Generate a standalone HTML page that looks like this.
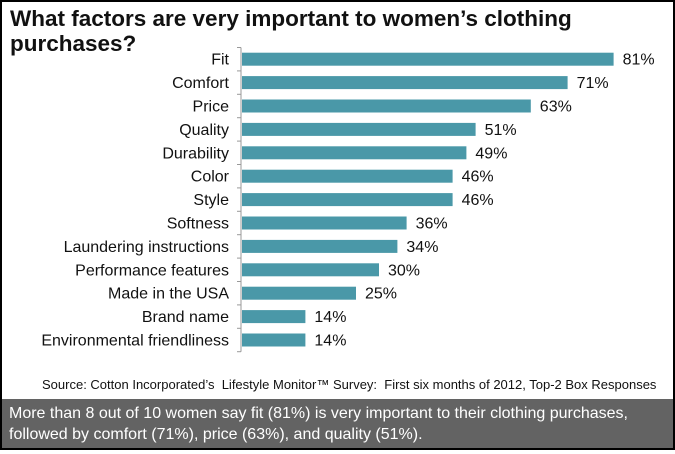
<!DOCTYPE html>
<html><head><meta charset="utf-8"><style>
body{margin:0;background:#fff;font-family:"Liberation Sans",Arial,sans-serif;}
#wrap{position:relative;width:671px;height:446px;border:2px solid #000;overflow:hidden;background:#fff}
#title{position:absolute;left:8px;top:4px;font-size:22.5px;font-weight:bold;line-height:25px;color:#111;margin:0;white-space:nowrap}
#src{position:absolute;left:40px;top:375px;font-size:13px;color:#111;white-space:nowrap}
#foot{position:absolute;left:0;top:397px;width:671px;height:49px;background:#636363;color:#fff;font-size:16px;line-height:21px;padding:4px 7px;box-sizing:border-box;white-space:nowrap}
</style></head><body>
<div id="wrap">
<h1 id="title">What factors are very important to women’s clothing<br>purchases?</h1>
<svg id="chart" width="671" height="370" style="position:absolute;left:0;top:0"></svg>
<div id="src">Source: Cotton Incorporated’s&nbsp; Lifestyle Monitor™ Survey:&nbsp; First six months of 2012, Top-2 Box Responses</div>
<div id="foot">More than 8 out of 10 women say fit (81%) is very important to their clothing purchases,<br>followed by comfort (71%), price (63%), and quality (51%).</div>
</div>
<script>
const categories=["Fit","Comfort","Price","Quality","Durability","Color","Style","Softness","Laundering instructions","Performance features","Made in the USA","Brand name","Environmental friendliness"];
const values=[81,71,63,51,49,46,46,36,34,30,25,14,14];
const valueLabels=["81%","71%","63%","51%","49%","46%","46%","36%","34%","30%","25%","14%","14%"];
const svg=document.getElementById('chart');
const NS='http://www.w3.org/2000/svg';
const x0=239, pxPer=4.6, top0=45.5, pitch=23.4, bh=13;
const xs=v=>x0+v*pxPer;
const yc=i=>top0+pitch*i+pitch/2;
function mk(t,a){const e=document.createElementNS(NS,t);for(const k in a)e.setAttribute(k,a[k]);svg.appendChild(e);return e;}
const ax=mk('line',{x1:x0,x2:x0,y1:top0,y2:top0+pitch*categories.length,stroke:'#999','stroke-width':1});


for(let i=0;i<=categories.length;i++){
 const t=mk('line',{x1:x0-4,x2:x0,y1:top0+pitch*i,y2:top0+pitch*i,stroke:'#999','stroke-width':1});
 
 
}
categories.forEach((c,i)=>{
 const y=yc(i);
 const r=mk('rect',{x:x0+1,y:y-bh/2,width:xs(values[i])-x0-1,height:bh,fill:'#4a98a8'});
 
 
 const l=mk('text',{x:x0-12,y:y+5.5,'text-anchor':'end','font-size':16,fill:'#111','font-family':'Liberation Sans, Arial, sans-serif'});
 l.textContent=c;
 
 
 const v=mk('text',{x:xs(values[i])+9,y:y+5.5,'font-size':16,fill:'#111','font-family':'Liberation Sans, Arial, sans-serif'});
 v.textContent=valueLabels[i];
 
 
});
</script>
</body></html>
